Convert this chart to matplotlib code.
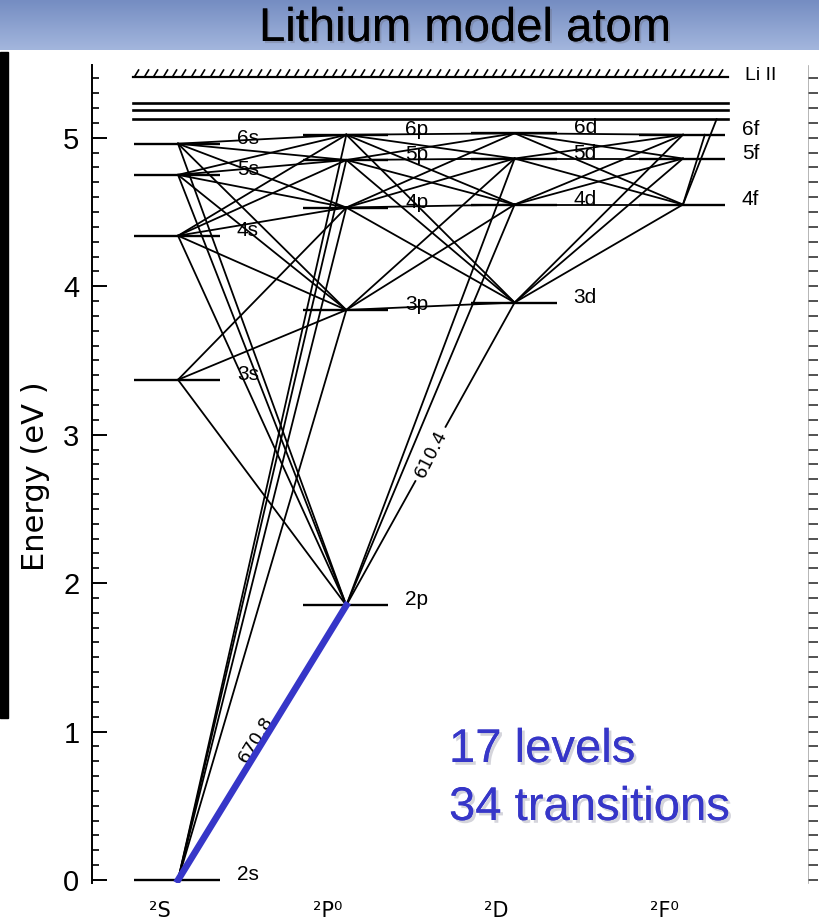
import numpy as np
import matplotlib
matplotlib.use("Agg")
import matplotlib.pyplot as plt
from matplotlib.path import Path
from matplotlib.patches import Rectangle
from matplotlib.colors import LinearSegmentedColormap
import matplotlib.patheffects as pe

# ---------------- data ----------------
title = "Lithium model atom"
column_labels = ["²S", "²P⁰", "²D", "²F⁰"]
level_names = ["2s", "3s", "4s", "5s", "6s",
               "2p", "3p", "4p", "5p", "6p",
               "3d", "4d", "5d", "6d",
               "4f", "5f", "6f"]
level_cols = [0, 0, 0, 0, 0,
              1, 1, 1, 1, 1,
              2, 2, 2, 2,
              3, 3, 3]
level_energy = [0.00, 3.37, 4.34, 4.75, 4.96,
                1.85, 3.84, 4.53, 4.85, 5.02,
                3.89, 4.55, 4.86, 5.03,
                4.55, 4.86, 5.02]
upper_energies = [5.125, 5.19, 5.235]
ion_energy = 5.41
ion_label = "Li II"
extra_vertices = {"g6": (3.13, 5.02), "g7": (3.20, 5.125)}

transitions = [
    ("2s", "3p"), ("2s", "4p"), ("2s", "5p"), ("2s", "6p"),
    ("3s", "2p"), ("3s", "3p"), ("3s", "4p"),
    ("4s", "2p"), ("4s", "3p"), ("4s", "4p"), ("4s", "5p"), ("4s", "6p"),
    ("5s", "2p"), ("5s", "3p"), ("5s", "4p"), ("5s", "5p"), ("5s", "6p"),
    ("6s", "2p"), ("6s", "3p"), ("6s", "4p"), ("6s", "5p"), ("6s", "6p"),
    ("2p", "3d"), ("2p", "4d"), ("2p", "5d"),
    ("3p", "3d"), ("3p", "4d"), ("3p", "5d"),
    ("4p", "3d"), ("4p", "4d"), ("4p", "5d"), ("4p", "6d"),
    ("5p", "3d"), ("5p", "4d"), ("5p", "5d"), ("5p", "6d"),
    ("6p", "3d"), ("6p", "4d"), ("6p", "5d"), ("6p", "6d"),
    ("3d", "4f"), ("3d", "5f"), ("3d", "6f"),
    ("4d", "4f"), ("4d", "5f"), ("4d", "6f"),
    ("5d", "4f"), ("5d", "5f"), ("5d", "6f"),
    ("6d", "4f"), ("6d", "5f"), ("6d", "6f"),
    ("4f", "g6"), ("4f", "g7"),
]
highlight = ("2s", "2p")
highlight_label = "670.8"
marked = ("2p", "3d")
marked_label = "610.4"
yticks = [0, 1, 2, 3, 4, 5]
ylabel = "Energy (eV )"
note_lines = ["17 levels", "34 transitions"]

# ---------------- style ----------------
W, H = 819, 924
BLUE = "#3636c8"
TXT = ["Liberation Sans", "DejaVu Sans"]

fig = plt.figure(figsize=(W / 100, H / 100), dpi=100)
fig.patch.set_facecolor("white")

# banner
bax = fig.add_axes([0, 1 - 50 / H, 1, 50 / H])
grad = np.linspace(0, 1, 64)[:, None]
cmap = LinearSegmentedColormap.from_list("ban", ["#758dc2", "#a3b6dd"])
bax.imshow(grad, aspect="auto", cmap=cmap, extent=[0, 1, 0, 1])
bax.set_axis_off()
fig.text(465 / W, 1 - 29 / H, title, ha="center", va="center", fontsize=34,
         family=TXT, color="black",
         path_effects=[pe.withSimplePatchShadow(offset=(1.5, -1.5), shadow_rgbFace="#6a6a7a", alpha=0.35),
                       pe.Normal()])

# left black bar
fig.patches.append(Rectangle((0, 1 - 718 / H), 8 / W, (718 - 52) / H,
                             transform=fig.transFigure, color="black"))

# main axes
ax = fig.add_axes([92 / W, (H - 883) / H, (808 - 92) / W, (883 - 65) / H])
ax.set_xlim(-0.511, 3.743)
ax.set_ylim(-0.02, 5.49)
ax.set_facecolor("none")
for s in ["top", "bottom", "right"]:
    ax.spines[s].set_visible(False)
ax.spines["left"].set_linewidth(1.4)
ax.set_xticks([])
ax.set_yticks(yticks)
ax.set_yticks(np.arange(0, 5.45, 0.1), minor=True)
ax.tick_params(axis="y", which="major", direction="in", length=11, width=1.4,
               labelsize=21, pad=9)
ax.tick_params(axis="y", which="minor", direction="in", length=5, width=1.2)
for lab in ax.get_yticklabels():
    lab.set_family(TXT)
ax.set_ylabel(ylabel, fontsize=22, family=["DejaVu Sans"], va="center")
ax.yaxis.set_label_coords(-0.0796, 0.4976)

# right edge ticks (neighbouring panel)
ax2 = ax.twinx()
ax2.set_ylim(ax.get_ylim())
for s in ["top", "bottom", "left"]:
    ax2.spines[s].set_visible(False)
ax2.spines["right"].set_color("#999999")
ax2.spines["right"].set_linewidth(0.5)
ax2.set_yticks(yticks)
ax2.set_yticks(np.arange(0, 5.45, 0.1), minor=True)
ax2.tick_params(axis="y", which="both", direction="out", length=7, width=1.2,
                colors="#333333", labelright=False)

# level geometry
lv = {n: (c, e) for n, c, e in zip(level_names, level_cols, level_energy)}
vert = dict(lv)
vert.update(extra_vertices)

for n, (c, e) in lv.items():
    ax.plot([c - 0.26, c + 0.25], [e, e], color="black", lw=1.7, solid_capstyle="butt", zorder=2)
    ax.text(c + 0.35, e, n, fontsize=15, family=TXT, ha="left", va="baseline", zorder=4)

x_left, x_right = -0.267, 3.27
for e in upper_energies:
    ax.plot([x_left, x_right], [e, e], color="black", lw=1.9, zorder=2)
ax.plot([x_left, x_right], [ion_energy, ion_energy], color="black", lw=1.6, zorder=2)
hatch = Path([(-0.3, -0.5), (0.3, 0.5)], [Path.MOVETO, Path.LINETO])
hx = np.arange(x_left + 0.02, x_right, 0.0559)
ax.plot(hx, np.full(hx.shape, ion_energy + 0.028), ls="none", marker=hatch,
        markersize=6, markeredgewidth=1.2, color="black", zorder=2)
ax.text(3.37, ion_energy - 0.02, ion_label, fontsize=14, family=TXT, ha="left", va="baseline")

# transitions
for a, b in transitions:
    (x1, y1), (x2, y2) = vert[a], vert[b]
    ax.plot([x1, x2], [y1, y2], color="black", lw=1.3, zorder=3)

# highlighted resonance line
(hx1, hy1), (hx2, hy2) = vert[highlight[0]], vert[highlight[1]]
ax.plot([hx1, hx2], [hy1, hy2], color=BLUE, lw=4.8, solid_capstyle="projecting", zorder=6)


def disp_angle(p, q):
    d = ax.transData.transform([q]) - ax.transData.transform([p])
    return np.degrees(np.arctan2(d[0, 1], d[0, 0]))


ang = disp_angle((hx1, hy1), (hx2, hy2))
t = 0.51
ax.text(hx1 + t * (hx2 - hx1) - 0.05, hy1 + t * (hy2 - hy1), highlight_label,
        rotation=ang, fontsize=13, family=["DejaVu Sans"], ha="center", va="center",
        rotation_mode="anchor", zorder=5)

(mx1, my1), (mx2, my2) = vert[marked[0]], vert[marked[1]]
ang2 = disp_angle((mx1, my1), (mx2, my2))
t = 0.5
ax.text(mx1 + t * (mx2 - mx1), my1 + t * (my2 - my1), marked_label,
        rotation=ang2 + 2, fontsize=13, family=["DejaVu Sans"], ha="center", va="center",
        rotation_mode="anchor", zorder=5,
        bbox=dict(boxstyle="square,pad=0.25", fc="white", ec="none"))

# column labels
for i, lab in enumerate(column_labels):
    ax.text(i - 0.11, -0.21, lab, fontsize=15, family=["DejaVu Sans"], ha="center",
            va="center", clip_on=False)

# note text
shadow = [pe.withSimplePatchShadow(offset=(2, -2), shadow_rgbFace="#a0a0b0", alpha=0.45), pe.Normal()]
fig.text(449 / W, 1 - 762 / H, note_lines[0], fontsize=34, family=TXT, color=BLUE,
         ha="left", va="baseline", path_effects=shadow)
fig.text(449 / W, 1 - 820 / H, note_lines[1], fontsize=34, family=TXT, color=BLUE,
         ha="left", va="baseline", path_effects=shadow)

fig.savefig("out.png", dpi=100)
